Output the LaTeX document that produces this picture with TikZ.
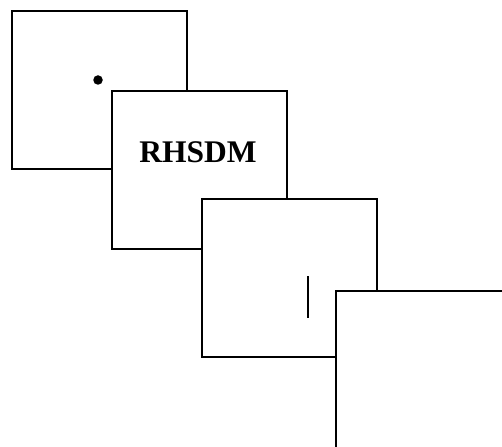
\documentclass[tikz,border=0pt]{standalone}
\usepackage{fontspec}
\setmainfont{Liberation Serif}
\begin{document}
\begin{tikzpicture}[x=1pt,y=-1pt,
  panel/.style={draw=black,fill=white,line width=1.9pt},
  mark line/.style={draw=black,line width=1.9pt}]
\useasboundingbox (0,0) rectangle (502,446);
\begin{scope}
\clip (0,0) rectangle (502,446);
\node[panel,minimum width=175pt,minimum height=158pt,inner sep=0pt,anchor=north west] (p1) at (11,10) {};
\node[circle,fill=black,inner sep=0pt,minimum size=9.5pt] (dot) at (98,80) {};
\node[panel,minimum width=175pt,minimum height=158pt,inner sep=0pt,anchor=north west] (p2) at (111,90) {};
\node[font=\bfseries\fontsize{31.5}{31.5}\selectfont,anchor=base] (lbl) at (198,163) {RHSDM};
\node[panel,minimum width=175pt,minimum height=158pt,inner sep=0pt,anchor=north west] (p3) at (201,198) {};
\coordinate (v1) at (308,276);
\coordinate (v2) at (308,318);
\draw[mark line] (v1) -- (v2);
\node[panel,minimum width=175pt,minimum height=158pt,inner sep=0pt,anchor=north west] (p4) at (335,290) {};
\end{scope}
\end{tikzpicture}
\end{document}
